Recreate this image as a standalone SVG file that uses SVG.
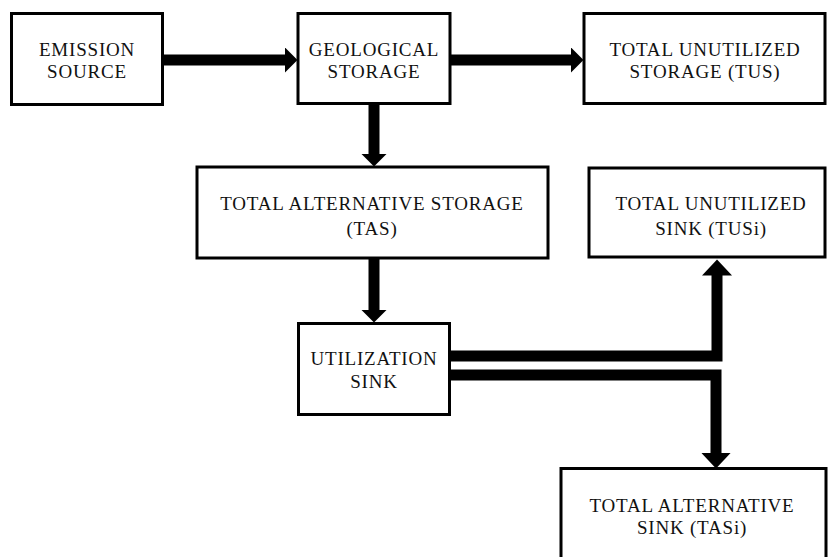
<svg xmlns="http://www.w3.org/2000/svg" width="828" height="557" viewBox="0 0 828 557">
<style>
.box{fill:#fff;stroke:#000;stroke-width:3}
.t{font-family:"Liberation Serif","Times New Roman",serif;font-size:19px;letter-spacing:0.8px;fill:#111;text-anchor:middle}
.c{fill:none;stroke:#000;stroke-width:11;stroke-linejoin:miter}
</style>
<defs>
<marker id="h" markerUnits="userSpaceOnUse" markerWidth="14" markerHeight="26" refX="0.5" refY="13" orient="auto"><path d="M0,0 L13,13 L0,26 Z" fill="#000"/></marker>
<marker id="hb" markerUnits="userSpaceOnUse" markerWidth="18" markerHeight="34" refX="0.5" refY="17" orient="auto"><path d="M0,2 L16,17 L0,32 Z" fill="#000"/></marker>
</defs>
<g id="connectors">
<line class="c" x1="164" y1="60" x2="285" y2="60" marker-end="url(#h)"/>
<line class="c" x1="450" y1="60" x2="571" y2="60" marker-end="url(#h)"/>
<line class="c" x1="374" y1="103" x2="374" y2="154" marker-end="url(#h)"/>
<line class="c" x1="374" y1="258" x2="374" y2="310" marker-end="url(#h)"/>
<path class="c" d="M450,356 H717 V275" marker-end="url(#hb)"/>
<path class="c" d="M450,375 H716 V453" marker-end="url(#hb)"/>
</g>
<g id="emission">
<rect class="box" x="11.5" y="13.5" width="151" height="91"/>
<text class="t" x="87" y="56">EMISSION</text>
<text class="t" x="87" y="78">SOURCE</text>
</g>
<g id="geological">
<rect class="box" x="298" y="13.5" width="152" height="90"/>
<text class="t" x="374" y="56">GEOLOGICAL</text>
<text class="t" x="374" y="78">STORAGE</text>
</g>
<g id="tus">
<rect class="box" x="584" y="13.5" width="241" height="90"/>
<text class="t" x="705" y="56">TOTAL UNUTILIZED</text>
<text class="t" x="705" y="78">STORAGE (TUS)</text>
</g>
<g id="tas">
<rect class="box" x="197" y="167" width="351" height="91"/>
<text class="t" x="372" y="210">TOTAL ALTERNATIVE STORAGE</text>
<text class="t" x="372" y="235">(TAS)</text>
</g>
<g id="tusi">
<rect class="box" x="589" y="168" width="236" height="89"/>
<text class="t" x="711" y="210">TOTAL UNUTILIZED</text>
<text class="t" x="711" y="235">SINK (TUSi)</text>
</g>
<g id="utilization">
<rect class="box" x="298.5" y="323.5" width="151" height="91"/>
<text class="t" x="374" y="365">UTILIZATION</text>
<text class="t" x="374" y="388">SINK</text>
</g>
<g id="tasi">
<rect class="box" x="561" y="468.5" width="265" height="100"/>
<text class="t" x="692" y="512">TOTAL ALTERNATIVE</text>
<text class="t" x="692" y="534">SINK (TASi)</text>
</g>
</svg>
